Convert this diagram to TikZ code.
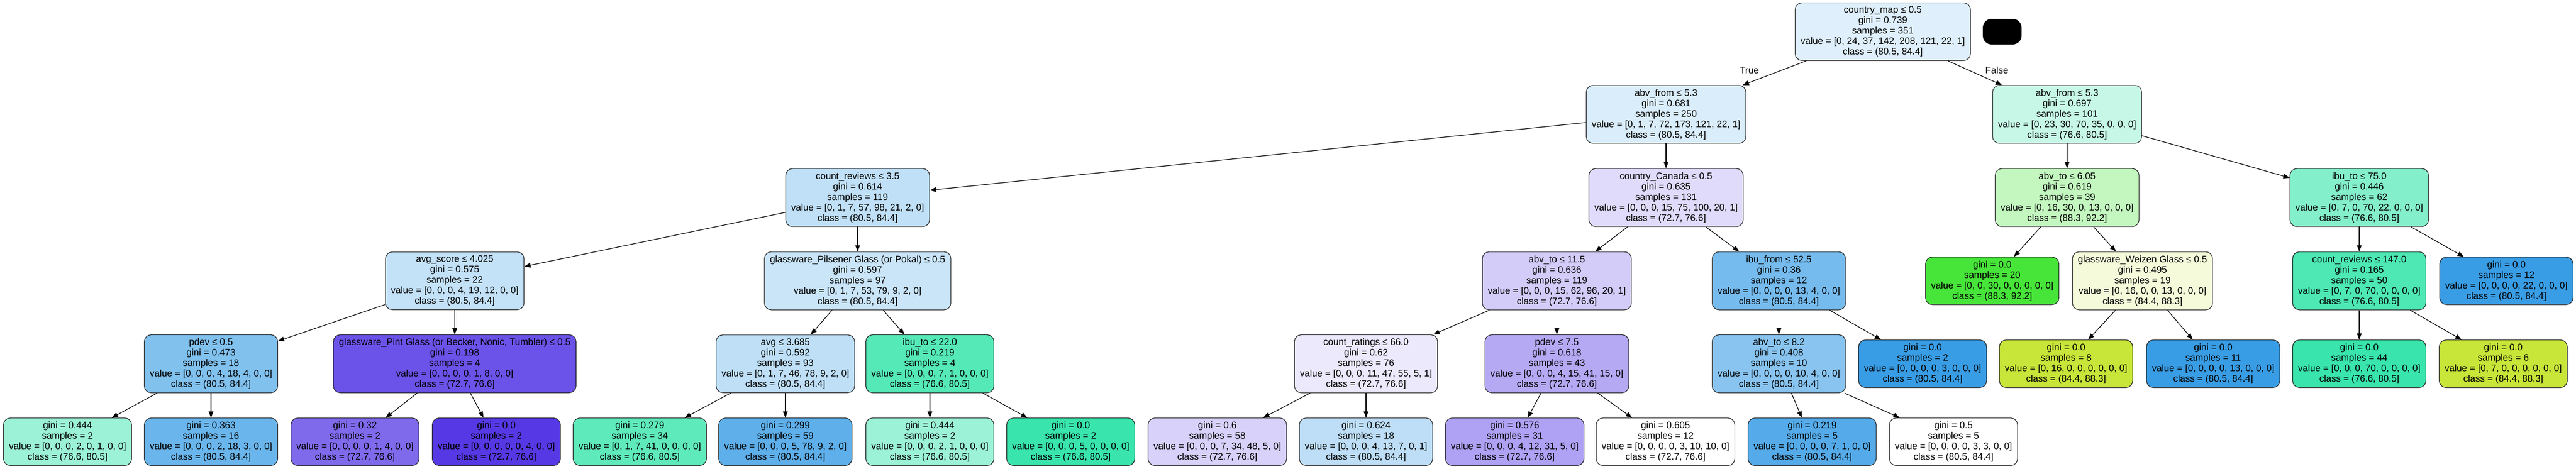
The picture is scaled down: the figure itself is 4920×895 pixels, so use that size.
\documentclass[tikz,border=0pt]{standalone}
\usepackage{fontspec}
\setmainfont{Liberation Sans}
\usetikzlibrary{arrows.meta}

% node fills (class colour, tinted by purity)
\definecolor{c0}{RGB}{223,239,251}
\definecolor{c1}{RGB}{218,237,250}
\definecolor{c2}{RGB}{192,224,247}
\definecolor{c3}{RGB}{195,225,247}
\definecolor{c4}{RGB}{129,193,238}
\definecolor{c5}{RGB}{156,242,214}
\definecolor{c6}{RGB}{106,182,236}
\definecolor{c7}{RGB}{107,82,232}
\definecolor{c8}{RGB}{128,106,236}
\definecolor{c9}{RGB}{86,57,229}
\definecolor{c10}{RGB}{202,229,248}
\definecolor{c11}{RGB}{190,223,246}
\definecolor{c12}{RGB}{95,234,188}
\definecolor{c13}{RGB}{94,175,234}
\definecolor{c14}{RGB}{85,233,184}
\definecolor{c15}{RGB}{156,242,214}
\definecolor{c16}{RGB}{57,229,172}
\definecolor{c17}{RGB}{224,219,250}
\definecolor{c18}{RGB}{211,204,248}
\definecolor{c19}{RGB}{236,233,252}
\definecolor{c20}{RGB}{216,209,249}
\definecolor{c21}{RGB}{189,222,246}
\definecolor{c22}{RGB}{182,169,244}
\definecolor{c23}{RGB}{175,161,243}
\definecolor{c24}{RGB}{255,255,255}
\definecolor{c25}{RGB}{118,187,237}
\definecolor{c26}{RGB}{136,196,239}
\definecolor{c27}{RGB}{85,171,233}
\definecolor{c28}{RGB}{255,255,255}
\definecolor{c29}{RGB}{57,157,229}
\definecolor{c30}{RGB}{199,248,231}
\definecolor{c31}{RGB}{195,247,191}
\definecolor{c32}{RGB}{71,229,57}
\definecolor{c33}{RGB}{245,250,218}
\definecolor{c34}{RGB}{200,229,57}
\definecolor{c35}{RGB}{57,157,229}
\definecolor{c36}{RGB}{132,239,203}
\definecolor{c37}{RGB}{77,232,180}
\definecolor{c38}{RGB}{57,229,172}
\definecolor{c39}{RGB}{200,229,57}
\definecolor{c40}{RGB}{57,157,229}

\begin{document}
\begin{tikzpicture}[x=1pt,y=-1pt,
	treenode/.style={draw=black!85,line width=1.2pt,rounded corners=13pt,align=center,
		inner xsep=10.5pt,inner ysep=7pt,font=\fontsize{18}{20}\selectfont},
	branch/.style={line width=1.2pt,-{Triangle[length=12pt,width=9pt]}},
	branchlabel/.style={font=\fontsize{18}{20}\selectfont}]
	\fill [white] (0,0) rectangle (4920,895);
	\useasboundingbox (0,0) rectangle (4920,895);
	
	% rank 1
	\node [treenode,fill=c0] (n0) at (3596,60.5) {country\_map ≤ 0.5\\gini = 0.739\\samples = 351\\value = [0, 24, 37, 142, 208, 121, 22, 1]\\class = (80.5, 84.4]};
	\node [fill=black,rounded corners=17pt,minimum width=74pt,minimum height=49pt,inner sep=0pt] (blackbox) at (3824,60.5) {};
	
	% rank 2
	\node [treenode,fill=c1] (n1) at (3182,218.5) {abv\_from ≤ 5.3\\gini = 0.681\\samples = 250\\value = [0, 1, 7, 72, 173, 121, 22, 1]\\class = (80.5, 84.4]};
	\node [treenode,fill=c30] (n30) at (3948,218.5) {abv\_from ≤ 5.3\\gini = 0.697\\samples = 101\\value = [0, 23, 30, 70, 35, 0, 0, 0]\\class = (76.6, 80.5]};
	
	% rank 3
	\node [treenode,fill=c2] (n2) at (1638,377.5) {count\_reviews ≤ 3.5\\gini = 0.614\\samples = 119\\value = [0, 1, 7, 57, 98, 21, 2, 0]\\class = (80.5, 84.4]};
	\node [treenode,fill=c17] (n17) at (3182,377.5) {country\_Canada ≤ 0.5\\gini = 0.635\\samples = 131\\value = [0, 0, 0, 15, 75, 100, 20, 1]\\class = (72.7, 76.6]};
	\node [treenode,fill=c31] (n31) at (3948,377.5) {abv\_to ≤ 6.05\\gini = 0.619\\samples = 39\\value = [0, 16, 30, 0, 13, 0, 0, 0]\\class = (88.3, 92.2]};
	\node [treenode,fill=c36] (n36) at (4506,377.5) {ibu\_to ≤ 75.0\\gini = 0.446\\samples = 62\\value = [0, 7, 0, 70, 22, 0, 0, 0]\\class = (76.6, 80.5]};
	
	% rank 4
	\node [treenode,fill=c3] (n3) at (868.5,536.5) {avg\_score ≤ 4.025\\gini = 0.575\\samples = 22\\value = [0, 0, 0, 4, 19, 12, 0, 0]\\class = (80.5, 84.4]};
	\node [treenode,fill=c10] (n10) at (1638,536.5) {glassware\_Pilsener Glass (or Pokal) ≤ 0.5\\gini = 0.597\\samples = 97\\value = [0, 1, 7, 53, 79, 9, 2, 0]\\class = (80.5, 84.4]};
	\node [treenode,fill=c18] (n18) at (2973.5,536.5) {abv\_to ≤ 11.5\\gini = 0.636\\samples = 119\\value = [0, 0, 0, 15, 62, 96, 20, 1]\\class = (72.7, 76.6]};
	\node [treenode,fill=c25] (n25) at (3397.5,536.5) {ibu\_from ≤ 52.5\\gini = 0.36\\samples = 12\\value = [0, 0, 0, 0, 13, 4, 0, 0]\\class = (80.5, 84.4]};
	\node [treenode,fill=c32] (n32) at (3805,536.5) {gini = 0.0\\samples = 20\\value = [0, 0, 30, 0, 0, 0, 0, 0]\\class = (88.3, 92.2]};
	\node [treenode,fill=c33] (n33) at (4092,536.5) {glassware\_Weizen Glass ≤ 0.5\\gini = 0.495\\samples = 19\\value = [0, 16, 0, 0, 13, 0, 0, 0]\\class = (84.4, 88.3]};
	\node [treenode,fill=c37] (n37) at (4506,536.5) {count\_reviews ≤ 147.0\\gini = 0.165\\samples = 50\\value = [0, 7, 0, 70, 0, 0, 0, 0]\\class = (76.6, 80.5]};
	\node [treenode,fill=c40] (n40) at (4787,536.5) {gini = 0.0\\samples = 12\\value = [0, 0, 0, 0, 22, 0, 0, 0]\\class = (80.5, 84.4]};
	
	% rank 5
	\node [treenode,fill=c4] (n4) at (403,695) {pdev ≤ 0.5\\gini = 0.473\\samples = 18\\value = [0, 0, 0, 4, 18, 4, 0, 0]\\class = (80.5, 84.4]};
	\node [treenode,fill=c7] (n7) at (868.5,695) {glassware\_Pint Glass (or Becker, Nonic, Tumbler) ≤ 0.5\\gini = 0.198\\samples = 4\\value = [0, 0, 0, 0, 1, 8, 0, 0]\\class = (72.7, 76.6]};
	\node [treenode,fill=c11] (n11) at (1500,695) {avg ≤ 3.685\\gini = 0.592\\samples = 93\\value = [0, 1, 7, 46, 78, 9, 2, 0]\\class = (80.5, 84.4]};
	\node [treenode,fill=c14] (n14) at (1776,695) {ibu\_to ≤ 22.0\\gini = 0.219\\samples = 4\\value = [0, 0, 0, 7, 1, 0, 0, 0]\\class = (76.6, 80.5]};
	\node [treenode,fill=c19] (n19) at (2609,695) {count\_ratings ≤ 66.0\\gini = 0.62\\samples = 76\\value = [0, 0, 0, 11, 47, 55, 5, 1]\\class = (72.7, 76.6]};
	\node [treenode,fill=c22] (n22) at (2973.5,695) {pdev ≤ 7.5\\gini = 0.618\\samples = 43\\value = [0, 0, 0, 4, 15, 41, 15, 0]\\class = (72.7, 76.6]};
	\node [treenode,fill=c26] (n26) at (3397.5,695) {abv\_to ≤ 8.2\\gini = 0.408\\samples = 10\\value = [0, 0, 0, 0, 10, 4, 0, 0]\\class = (80.5, 84.4]};
	\node [treenode,fill=c29] (n29) at (3672,695) {gini = 0.0\\samples = 2\\value = [0, 0, 0, 0, 3, 0, 0, 0]\\class = (80.5, 84.4]};
	\node [treenode,fill=c34] (n34) at (3946,695) {gini = 0.0\\samples = 8\\value = [0, 16, 0, 0, 0, 0, 0, 0]\\class = (84.4, 88.3]};
	\node [treenode,fill=c35] (n35) at (4227,695) {gini = 0.0\\samples = 11\\value = [0, 0, 0, 0, 13, 0, 0, 0]\\class = (80.5, 84.4]};
	\node [treenode,fill=c38] (n38) at (4506,695) {gini = 0.0\\samples = 44\\value = [0, 0, 0, 70, 0, 0, 0, 0]\\class = (76.6, 80.5]};
	\node [treenode,fill=c39] (n39) at (4781,695) {gini = 0.0\\samples = 6\\value = [0, 7, 0, 0, 0, 0, 0, 0]\\class = (84.4, 88.3]};
	
	% rank 6 (leaves)
	\node [treenode,fill=c5] (n5) at (129,844) {gini = 0.444\\samples = 2\\value = [0, 0, 0, 2, 0, 1, 0, 0]\\class = (76.6, 80.5]};
	\node [treenode,fill=c6] (n6) at (403,844) {gini = 0.363\\samples = 16\\value = [0, 0, 0, 2, 18, 3, 0, 0]\\class = (80.5, 84.4]};
	\node [treenode,fill=c8] (n8) at (678,844) {gini = 0.32\\samples = 2\\value = [0, 0, 0, 0, 1, 4, 0, 0]\\class = (72.7, 76.6]};
	\node [treenode,fill=c9] (n9) at (948,844) {gini = 0.0\\samples = 2\\value = [0, 0, 0, 0, 0, 4, 0, 0]\\class = (72.7, 76.6]};
	\node [treenode,fill=c12] (n12) at (1222,844) {gini = 0.279\\samples = 34\\value = [0, 1, 7, 41, 0, 0, 0, 0]\\class = (76.6, 80.5]};
	\node [treenode,fill=c13] (n13) at (1500,844) {gini = 0.299\\samples = 59\\value = [0, 0, 0, 5, 78, 9, 2, 0]\\class = (80.5, 84.4]};
	\node [treenode,fill=c15] (n15) at (1776,844) {gini = 0.444\\samples = 2\\value = [0, 0, 0, 2, 1, 0, 0, 0]\\class = (76.6, 80.5]};
	\node [treenode,fill=c16] (n16) at (2045,844) {gini = 0.0\\samples = 2\\value = [0, 0, 0, 5, 0, 0, 0, 0]\\class = (76.6, 80.5]};
	\node [treenode,fill=c20] (n20) at (2325,844) {gini = 0.6\\samples = 58\\value = [0, 0, 0, 7, 34, 48, 5, 0]\\class = (72.7, 76.6]};
	\node [treenode,fill=c21] (n21) at (2609,844) {gini = 0.624\\samples = 18\\value = [0, 0, 0, 4, 13, 7, 0, 1]\\class = (80.5, 84.4]};
	\node [treenode,fill=c23] (n23) at (2893,844) {gini = 0.576\\samples = 31\\value = [0, 0, 0, 4, 12, 31, 5, 0]\\class = (72.7, 76.6]};
	\node [treenode,fill=c24] (n24) at (3181,844) {gini = 0.605\\samples = 12\\value = [0, 0, 0, 0, 3, 10, 10, 0]\\class = (72.7, 76.6]};
	\node [treenode,fill=c27] (n27) at (3461,844) {gini = 0.219\\samples = 5\\value = [0, 0, 0, 0, 7, 1, 0, 0]\\class = (80.5, 84.4]};
	\node [treenode,fill=c28] (n28) at (3731,844) {gini = 0.5\\samples = 5\\value = [0, 0, 0, 0, 3, 3, 0, 0]\\class = (80.5, 84.4]};
	
	% branches
	\draw [branch] (n0) -- (n1) node [branchlabel,midway,xshift=-48pt,yshift=5pt] {True};
	\draw [branch] (n0) -- (n30) node [branchlabel,midway,xshift=42pt,yshift=5pt] {False};
	\draw [branch] (n1) -- (n2); \draw [branch] (n1) -- (n17);
	\draw [branch] (n2) -- (n3); \draw [branch] (n2) -- (n10);
	\draw [branch] (n3) -- (n4); \draw [branch] (n3) -- (n7);
	\draw [branch] (n4) -- (n5); \draw [branch] (n4) -- (n6);
	\draw [branch] (n7) -- (n8); \draw [branch] (n7) -- (n9);
	\draw [branch] (n10) -- (n11); \draw [branch] (n10) -- (n14);
	\draw [branch] (n11) -- (n12); \draw [branch] (n11) -- (n13);
	\draw [branch] (n14) -- (n15); \draw [branch] (n14) -- (n16);
	\draw [branch] (n17) -- (n18); \draw [branch] (n17) -- (n25);
	\draw [branch] (n18) -- (n19); \draw [branch] (n18) -- (n22);
	\draw [branch] (n19) -- (n20); \draw [branch] (n19) -- (n21);
	\draw [branch] (n22) -- (n23); \draw [branch] (n22) -- (n24);
	\draw [branch] (n25) -- (n26); \draw [branch] (n25) -- (n29);
	\draw [branch] (n26) -- (n27); \draw [branch] (n26) -- (n28);
	\draw [branch] (n30) -- (n31); \draw [branch] (n30) -- (n36);
	\draw [branch] (n31) -- (n32); \draw [branch] (n31) -- (n33);
	\draw [branch] (n33) -- (n34); \draw [branch] (n33) -- (n35);
	\draw [branch] (n36) -- (n37); \draw [branch] (n36) -- (n40);
	\draw [branch] (n37) -- (n38); \draw [branch] (n37) -- (n39);
\end{tikzpicture}
\end{document}
